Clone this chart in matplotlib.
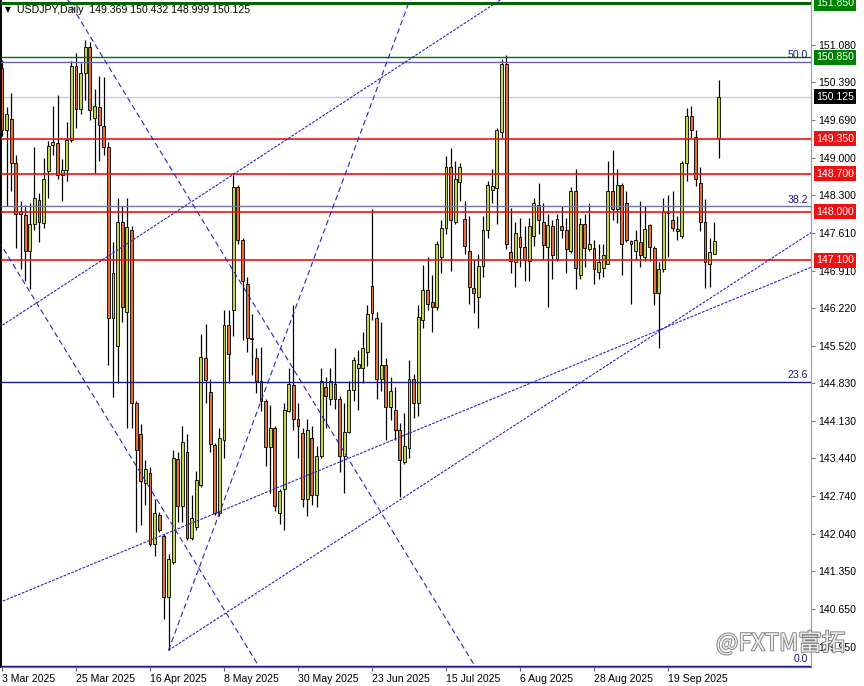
import matplotlib
matplotlib.use('Agg')
import matplotlib.pyplot as plt
import matplotlib.patheffects as pe
import matplotlib.transforms as mtransforms
import numpy as np
import pandas as pd

# ---------------- data ----------------
symbol_title = "USDJPY,Daily"
last_ohlc_text = "149.369 150.432 148.999 150.125"
first_date = "2025-03-03"

opens = [150.65, 149.51, 149.71, 148.89, 148.02, 147.94, 147.28, 147.77, 148.22, 147.79,
         148.75, 149.24, 149.27, 148.68, 148.77, 149.32, 150.70, 149.90, 150.56, 151.04,
         149.73, 149.94, 149.58, 149.20, 146.04, 145.51, 147.81, 146.15, 147.66, 144.46,
         143.89, 142.99, 143.17, 141.86, 142.40, 142.00, 140.88, 141.52, 143.42, 142.56,
         143.55, 141.97, 142.16, 142.95, 145.30, 144.67, 143.69, 142.42, 143.78, 145.90,
         146.18, 148.45, 147.47, 146.66, 145.66, 145.30, 144.87, 144.49, 143.64, 144.00,
         142.42, 142.87, 144.31, 144.80, 144.16, 143.91, 142.69, 143.82, 142.76, 143.49,
         144.76, 144.53, 144.81, 144.53, 143.49, 143.93, 144.70, 145.11, 145.11, 145.40,
         146.63, 146.04, 144.91, 145.17, 144.38, 144.34, 143.97, 143.37, 143.63, 144.91,
         144.46, 146.00, 146.55, 146.32, 146.23, 147.17, 147.70, 148.83, 147.81, 148.54,
         147.87, 147.27, 146.58, 146.43, 146.99, 147.66, 148.40, 148.44, 149.47, 150.73,
         147.26, 147.06, 147.53, 147.34, 147.08, 147.55, 148.13, 147.81, 147.34, 147.74,
         147.13, 147.73, 147.66, 147.28, 148.38, 146.83, 147.77, 147.31, 147.32, 146.88,
         146.96, 147.03, 148.38, 148.04, 148.49, 148.15, 147.45, 147.28, 147.43, 147.17,
         147.76, 147.32, 146.49, 146.93, 148.00, 147.85, 147.64, 147.55, 148.89, 149.76,
         149.38, 148.53, 147.81, 147.04, 147.22, 149.369]
highs = [150.80, 149.93, 150.19, 149.05, 148.20, 148.12, 148.15, 149.20, 148.34, 149.00,
         149.30, 149.96, 150.15, 148.97, 149.66, 150.79, 150.94, 150.75, 151.17, 151.13,
         150.26, 150.50, 150.49, 149.28, 147.43, 148.26, 148.11, 148.26, 147.74, 144.50,
         144.08, 143.40, 143.28, 142.69, 142.45, 142.04, 141.67, 143.59, 143.55, 144.04,
         143.89, 142.76, 143.21, 145.74, 145.93, 144.91, 143.72, 144.00, 146.19, 146.19,
         148.68, 148.49, 147.51, 146.80, 146.10, 145.47, 145.50, 144.53, 144.42, 144.04,
         142.88, 144.46, 145.10, 146.27, 144.46, 144.00, 144.16, 144.04, 143.66, 145.10,
         144.95, 145.10, 145.47, 144.60, 144.46, 144.87, 145.32, 145.44, 145.78, 146.27,
         148.04, 146.15, 145.96, 145.29, 144.95, 144.76, 144.10, 144.27, 145.25, 144.99,
         146.27, 147.02, 147.17, 146.83, 147.45, 147.85, 149.02, 149.17, 148.94, 148.90,
         148.19, 147.92, 147.10, 147.21, 147.92, 148.56, 148.79, 149.54, 150.83, 150.90,
         148.07, 147.81, 147.88, 147.73, 147.88, 148.26, 148.53, 148.15, 147.96, 147.85,
         147.96, 148.11, 147.88, 148.45, 148.79, 147.88, 147.96, 148.15, 147.47, 147.41,
         147.41, 148.94, 149.14, 148.79, 148.53, 148.38, 147.47, 147.66, 148.19, 148.11,
         147.77, 147.36, 147.06, 148.26, 148.30, 148.38, 147.92, 148.94, 149.92, 149.96,
         149.51, 148.83, 148.23, 147.51, 147.81, 150.432]
lows = [149.40, 148.11, 148.38, 147.32, 146.94, 146.72, 146.57, 147.66, 147.43, 147.70,
        148.25, 149.05, 148.60, 148.19, 148.56, 149.28, 149.54, 149.80, 150.07, 149.69,
        148.72, 148.94, 149.05, 145.17, 144.57, 144.83, 145.96, 144.00, 144.00, 142.08,
        142.20, 142.57, 141.82, 141.63, 142.08, 140.46, 139.90, 141.48, 142.27, 142.27,
        141.93, 141.93, 142.12, 142.91, 144.46, 143.55, 142.40, 142.38, 143.44, 144.83,
        145.70, 147.40, 145.63, 145.40, 144.98, 144.65, 144.31, 143.29, 142.80, 142.46,
        142.23, 142.12, 144.30, 143.97, 143.44, 142.54, 142.38, 142.57, 142.54, 143.44,
        144.00, 144.42, 144.35, 143.18, 142.80, 143.90, 144.49, 144.34, 144.83, 145.14,
        146.00, 144.53, 144.68, 143.78, 144.15, 143.78, 142.72, 143.33, 143.44, 144.19,
        144.23, 145.85, 146.19, 145.78, 146.19, 146.87, 147.58, 146.91, 147.77, 148.19,
        147.21, 146.30, 146.12, 145.85, 146.79, 147.51, 148.15, 147.77, 149.36, 147.30,
        146.87, 146.60, 146.98, 146.72, 146.72, 147.36, 147.58, 147.10, 146.23, 146.76,
        147.09, 147.51, 146.87, 147.24, 146.57, 146.76, 146.98, 147.28, 146.66, 146.76,
        146.79, 147.03, 147.85, 147.79, 146.83, 147.43, 146.30, 147.10, 146.98, 147.09,
        147.09, 146.27, 145.47, 146.89, 147.17, 147.64, 147.47, 147.51, 148.56, 149.36,
        148.47, 147.64, 146.58, 146.60, 147.21, 148.999]
closes = [149.51, 149.81, 148.89, 147.96, 147.95, 147.28, 147.77, 148.25, 147.81, 148.60,
          149.21, 149.29, 148.68, 148.77, 149.32, 150.70, 149.90, 150.56, 151.04, 149.88,
          149.96, 149.60, 149.20, 146.04, 146.87, 147.81, 146.23, 147.71, 144.46, 143.59,
          143.02, 143.25, 141.86, 142.42, 142.12, 140.88, 141.58, 143.45, 142.56, 143.74,
          141.97, 142.33, 143.04, 145.32, 144.89, 143.70, 142.42, 143.82, 145.90, 145.36,
          148.45, 147.47, 146.72, 145.66, 145.64, 144.87, 144.49, 143.64, 144.00, 142.56,
          142.84, 144.34, 144.81, 144.16, 144.04, 142.69, 143.97, 142.76, 143.49, 144.87,
          144.59, 144.87, 144.53, 143.49, 143.93, 144.70, 145.26, 145.19, 145.47, 146.11,
          146.13, 144.91, 145.17, 144.38, 144.68, 143.97, 143.40, 143.67, 144.91, 144.46,
          146.05, 146.55, 146.30, 146.23, 147.41, 147.70, 148.83, 147.85, 148.60, 148.83,
          147.36, 146.60, 146.50, 146.99, 147.66, 148.50, 148.48, 149.51, 150.73, 147.40,
          147.08, 147.61, 147.34, 147.11, 147.73, 148.15, 147.85, 147.38, 147.76, 147.19,
          147.86, 147.66, 147.31, 148.38, 146.96, 147.77, 147.32, 147.40, 146.94, 147.06,
          147.19, 148.38, 148.04, 148.50, 147.40, 147.47, 147.41, 147.47, 147.19, 147.67,
          147.34, 146.49, 146.94, 148.00, 147.98, 147.70, 147.68, 148.90, 149.77, 149.51,
          148.60, 147.81, 147.06, 147.26, 147.46, 150.125]

price_ticks = [151.080, 150.390, 149.690, 149.000, 148.300, 147.610, 146.910, 146.220,
               145.520, 144.830, 144.130, 143.440, 142.740, 142.040, 141.350, 140.650, 139.950]
date_tick_every = 16

green_levels = [151.850, 150.850]
red_levels = [149.350, 148.700, 148.000, 147.100]
bid_price = 150.125
fib_labels = ["50.0", "38.2", "23.6", "0.0"]
fib_prices = [150.77, 148.10, 144.85, 139.60]

# trendlines: (bar index, price) anchor pairs
trend_dashed = [((12.9, 152.10), (104.1, 139.34)),
                ((-1.51, 147.57), (57.34, 139.34)),
                ((36.0, 139.89), (89.0, 152.10))]
trend_dotted = [((-1.51, 145.81), (109.84, 152.03)),
                ((36.0, 139.89), (176.9, 147.72)),
                ((-1.51, 140.74), (176.9, 147.04))]

watermark = "@FXTM富拓"

# ---------------- figure ----------------
W, H = 864, 686
fig = plt.figure(figsize=(W / 100, H / 100), dpi=100)
fig.patch.set_facecolor('white')
ax = fig.add_axes([1 / W, 19 / H, 810 / W, 667 / H])
ax.set_facecolor('white')

FONT = 'Liberation Sans'
FS = 7.6

o = np.array(opens); h = np.array(highs); l = np.array(lows); c = np.array(closes)
x = np.arange(len(o))
up = c >= o
bottom = np.minimum(o, c)
height = np.maximum(np.abs(c - o), 0.02)

bull_col = '#c3d44e'
bear_col = '#e2703f'

ax.vlines(x, l, h, color='black', lw=0.9, zorder=3)
ax.bar(x[up], height[up], bottom=bottom[up], width=0.62, color=bull_col,
       edgecolor='black', linewidth=0.6, zorder=4)
ax.bar(x[~up], height[~up], bottom=bottom[~up], width=0.62, color=bear_col,
       edgecolor='black', linewidth=0.6, zorder=4)

# horizontal levels
ax.axhline(bid_price, color='#c8c8e6', lw=1.0, zorder=2)
ax.axhline(green_levels[0], color='#006400', lw=2.2, zorder=5)
ax.axhline(green_levels[1], color='#007000', lw=1.0, zorder=5)
for lv in red_levels:
    ax.axhline(lv, color='#ee1111', lw=1.2, zorder=5)
fib_cols = ['#6a5fa8', '#75759a', '#1a1a80', '#1a1a80']
blend = mtransforms.blended_transform_factory(ax.transAxes, ax.transData)
for lab, lv, col in zip(fib_labels, fib_prices, fib_cols):
    ax.axhline(lv, color=col, lw=1.0, zorder=5)
    ax.text(0.996, lv + 0.03, lab, transform=blend,
            ha='right', va='bottom', color='#1a1a80', fontsize=FS, family=FONT, zorder=6)

for (p1, p2) in trend_dashed:
    ax.plot([p1[0], p2[0]], [p1[1], p2[1]], color='#2525c8', lw=0.8,
            linestyle=(0, (5, 3)), zorder=5)
for (p1, p2) in trend_dotted:
    ax.plot([p1[0], p2[0]], [p1[1], p2[1]], color='#2525c8', lw=0.8,
            linestyle=(0, (2.5, 1.2)), zorder=5)

# limits
ax.set_xlim((1 - 2) / 4.625, (811 - 2) / 4.625)
ax.set_ylim(139.581, 151.912)

# y axis on right
ax.yaxis.tick_right()
ax.set_yticks(price_ticks)
ax.set_yticklabels([f"{v:.3f}" for v in price_ticks], fontsize=FS, family=FONT)
ax.tick_params(axis='y', direction='out', length=3, width=0.8, color='#808080', pad=2)

# x axis dates
dates = pd.bdate_range(first_date, periods=len(o))
xt = x[::date_tick_every]
ax.set_xticks(xt)
ax.set_xticklabels([f"{d.day} {d.strftime('%b %Y')}" for d in dates[xt]], fontsize=FS, family=FONT)
for lbl in ax.get_xticklabels():
    lbl.set_ha('left')
ax.tick_params(axis='x', direction='out', length=3, width=0.8, color='#606060', pad=2)

ax.spines['top'].set_visible(False)
ax.spines['left'].set_color('black'); ax.spines['left'].set_linewidth(1.4)
ax.spines['bottom'].set_color('#707070'); ax.spines['bottom'].set_linewidth(0.9)
ax.spines['right'].set_color('#a0a0a0'); ax.spines['right'].set_linewidth(0.9)

# price tags
tags = [(green_levels[0], '#008000'), (green_levels[1], '#008000'), (bid_price, '#000000')] + \
       [(lv, '#ee1111') for lv in red_levels]
for val, col in tags:
    ax.annotate(f"{val:.3f}", xy=(1.0, val), xycoords=('axes fraction', 'data'),
                xytext=(3.5, 0), textcoords='offset points', ha='left', va='center',
                fontsize=FS, family=FONT, color='white', annotation_clip=False,
                bbox=dict(boxstyle='square,pad=0.22', fc=col, ec='none'), zorder=10)

# header
fig.text(5 / W, 1 - 10 / H, "▼", fontsize=5.5, family='DejaVu Sans', va='center', ha='left')
fig.text(17 / W, 1 - 10 / H, f"{symbol_title}  {last_ohlc_text}", fontsize=FS, family=FONT,
         va='center', ha='left')

# watermark
fig.text(716 / W, 1 - 643 / H, watermark, fontsize=17, family=['Noto Sans CJK SC', 'DejaVu Sans'],
         color='white', va='center', ha='left', alpha=0.85,
         path_effects=[pe.withStroke(linewidth=1.3, foreground='#6a6a6a')], zorder=20)

fig.savefig('out.png', dpi=100, facecolor='white')
